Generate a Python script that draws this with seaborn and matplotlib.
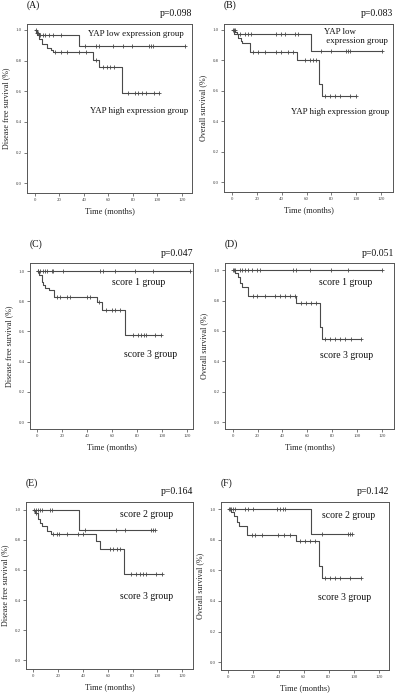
import numpy as np
import pandas as pd
import matplotlib
matplotlib.use("Agg")
import matplotlib.pyplot as plt
import seaborn as sns

# ---------------- data ----------------
# Panel A: disease free survival, YAP expression
a_low_t = [1.0, 3.0, 36.0]
a_low_s = [0.983, 0.967, 0.894]
a_low_c = [1.5, 2.5, 3.5, 4.5, 6.3, 8.0, 11.7, 15.0, 21.0, 40.8, 49.7, 52.0, 63.7, 71.8, 79.3, 93.0, 95.0, 96.0, 122.4]
a_high_t = [1.5, 3.5, 5.5, 10.0, 13.0, 15.0, 47.6, 52.5, 71.3]
a_high_s = [0.97, 0.94, 0.91, 0.885, 0.87, 0.855, 0.805, 0.758, 0.589]
a_high_c = [1.0, 16.3, 21.0, 26.5, 36.0, 42.0, 50.0, 55.8, 58.5, 61.2, 64.7, 76.2, 81.6, 84.4, 87.0, 91.0, 97.0, 101.5]

# Panel B: overall survival, YAP expression
b_low_t = [2.5, 4.0, 63.8]
b_low_s = [0.985, 0.971, 0.862]
b_low_c = [1.0, 1.9, 5.9, 10.0, 12.6, 15.3, 35.5, 39.5, 42.2, 50.3, 53.0, 71.8, 80.0, 92.0, 93.4, 94.7, 121.0]
b_high_t = [1.3, 4.6, 6.7, 8.0, 14.0, 52.0, 70.0, 72.0]
b_high_s = [0.97, 0.943, 0.928, 0.912, 0.855, 0.80, 0.643, 0.566]
b_high_c = [0.5, 16.7, 20.7, 26.0, 35.5, 39.5, 45.0, 49.0, 58.4, 62.4, 65.0, 67.8, 74.5, 78.6, 82.6, 86.6, 94.7, 100.0]

# Panel C: disease free survival, score 1 vs score 3
c_s1_t = []
c_s1_s = []
c_s1_c = [1.3, 2.6, 5.3, 6.6, 8.0, 12.0, 13.0, 21.0, 50.3, 53.0, 62.3, 78.0, 92.7, 122.4]
c_s3_t = [2.0, 4.0, 5.3, 7.0, 10.0, 13.8, 47.7, 51.7, 70.2]
c_s3_s = [0.976, 0.927, 0.91, 0.89, 0.875, 0.83, 0.793, 0.74, 0.576]
c_s3_c = [1.0, 16.0, 18.5, 24.0, 26.5, 39.7, 42.4, 49.8, 55.6, 59.6, 62.3, 66.2, 76.8, 80.8, 83.4, 85.3, 87.4, 94.0, 99.3]

# Panel D: overall survival, score 1 vs score 3
d_s1_t = []
d_s1_s = []
d_s1_c = [0.5, 1.9, 5.9, 7.2, 9.9, 12.6, 15.2, 19.2, 21.9, 48.6, 51.3, 62.0, 79.4, 92.7, 120.3]
d_s3_t = [1.9, 4.5, 5.9, 7.2, 12.6, 51.3, 70.0, 71.9]
d_s3_s = [0.98, 0.958, 0.914, 0.888, 0.83, 0.786, 0.628, 0.55]
d_s3_c = [1.0, 16.6, 19.2, 25.9, 33.9, 37.9, 42.0, 46.0, 50.0, 55.3, 59.3, 63.3, 67.3, 74.0, 78.0, 82.0, 86.0, 90.0, 95.4, 103.0]

# Panel E: disease free survival, score 2 vs score 3
e_s2_t = [36.7]
e_s2_s = [0.863]
e_s2_c = [0.5, 2.1, 4.0, 5.4, 6.7, 13.4, 14.7, 41.5, 66.4, 73.7, 95.0, 96.4, 97.8]
e_s3_t = [1.0, 4.0, 5.4, 7.2, 10.7, 14.0, 50.4, 54.0, 72.9]
e_s3_s = [0.98, 0.94, 0.912, 0.89, 0.86, 0.837, 0.79, 0.74, 0.576]
e_s3_c = [2.0, 16.0, 18.8, 21.0, 26.8, 36.0, 40.0, 61.6, 64.3, 67.0, 69.6, 79.0, 83.0, 85.7, 88.4, 90.5, 98.6, 103.7]

# Panel F: overall survival, score 2 vs score 3
f_s2_t = [65.6]
f_s2_s = [0.84]
f_s2_c = [0.8, 2.1, 4.0, 5.3, 13.3, 15.9, 19.9, 38.5, 41.1, 43.8, 45.1, 74.3, 95.6, 96.9, 98.2]
f_s3_t = [2.1, 4.8, 6.6, 8.5, 15.1, 53.9, 72.2, 74.3]
f_s3_s = [0.98, 0.955, 0.915, 0.888, 0.834, 0.79, 0.63, 0.55]
f_s3_c = [1.0, 18.6, 21.2, 26.5, 39.8, 44.6, 49.1, 57.0, 61.0, 65.0, 69.0, 77.0, 81.0, 85.0, 89.0, 97.0, 106.0]

panel_tags = ["(A)", "(B)", "(C)", "(D)", "(E)", "(F)"]
p_values = ["p=0.098", "p=0.083", "p=0.047", "p=0.051", "p=0.164", "p=0.142"]
y_labels = ["Disease free survival (%)", "Overall survival (%)",
            "Disease free survival (%)", "Overall survival (%)",
            "Disease free survival (%)", "Overall survival (%)"]
x_label = "Time (months)"
x_ticks = [0, 20, 40, 60, 80, 100, 120]
y_ticks = [0.0, 0.2, 0.4, 0.6, 0.8, 1.0]

curves = [
    [(a_low_t, a_low_s, a_low_c), (a_high_t, a_high_s, a_high_c)],
    [(b_low_t, b_low_s, b_low_c), (b_high_t, b_high_s, b_high_c)],
    [(c_s1_t, c_s1_s, c_s1_c), (c_s3_t, c_s3_s, c_s3_c)],
    [(d_s1_t, d_s1_s, d_s1_c), (d_s3_t, d_s3_s, d_s3_c)],
    [(e_s2_t, e_s2_s, e_s2_c), (e_s3_t, e_s3_s, e_s3_c)],
    [(f_s2_t, f_s2_s, f_s2_c), (f_s3_t, f_s3_s, f_s3_c)],
]

# group labels: (text, x in months, y in survival, font size)
group_labels = [
    [("YAP low expression group", 43, 0.975, 6.4), ("YAP high expression group", 45, 0.47, 6.4)],
    [("YAP low\n expression group", 74, 0.955, 6.4), ("YAP high expression group", 47.6, 0.463, 6.4)],
    [("score 1 group", 59.6, 0.923, 7), ("score 3 group", 69.4, 0.444, 7)],
    [("score 1 group", 69.2, 0.92, 7), ("score 3 group", 70, 0.44, 7)],
    [("score 2 group", 70.2, 0.967, 7), ("score 3 group", 70.2, 0.426, 7)],
    [("score 2 group", 74.9, 0.958, 7), ("score 3 group", 71.7, 0.424, 7)],
]

# ---------------- layout ----------------
W, H = 398, 693
sns.set_theme(style="ticks")
plt.rcParams["font.family"] = ["Liberation Serif", "DejaVu Serif"]

fig = plt.figure(figsize=(W / 100, H / 100), dpi=100)
fig.patch.set_facecolor("white")

# axes boxes in pixels: left, right, top, bottom
boxes = [(27, 192, 24, 193), (224, 393, 24, 192),
         (30, 193, 263, 429), (225, 394, 263, 429),
         (26, 193, 502, 669), (221, 389, 502, 670)]
xlims = [(-6.5, 128.2), (-6.7, 129.7), (-5.3, 124.5), (-6.1, 129.6), (-5.9, 128.6), (-5.8, 128.0)]
ylims = [(-0.063, 1.039), (-0.063, 1.038), (-0.046, 1.053), (-0.046, 1.048), (-0.057, 1.05), (-0.052, 1.048)]

line_col = "#4a4a4a"
for i in range(6):
    l, r, t, b = boxes[i]
    ax = fig.add_axes([l / W, 1 - b / H, (r - l) / W, (b - t) / H])
    for (ev_t, ev_s, cens) in curves[i]:
        end = max(cens + ev_t)
        xs = [0.0] + list(ev_t) + [end]
        ys = [1.0] + list(ev_s) + [ev_s[-1] if len(ev_s) else 1.0]
        df = pd.DataFrame({"t": xs, "s": ys})
        sns.lineplot(data=df, x="t", y="s", ax=ax, estimator=None, sort=False,
                     drawstyle="steps-post", color=line_col, linewidth=0.8)
        step_t = np.array([0.0] + list(ev_t))
        step_s = np.array([1.0] + list(ev_s))
        idx = np.searchsorted(step_t, np.array(cens), side="right") - 1
        cdf = pd.DataFrame({"t": cens, "s": step_s[idx]})
        sns.scatterplot(data=cdf, x="t", y="s", ax=ax, marker="+", s=10,
                        color=line_col, linewidth=0.6, zorder=3)
    ax.set_xlim(*xlims[i])
    ax.set_ylim(*ylims[i])
    ax.set_xticks(x_ticks)
    ax.set_yticks(y_ticks)
    ax.set_xticklabels([str(v) for v in x_ticks])
    ax.set_yticklabels([f"{v:.1f}" for v in y_ticks])
    ax.tick_params(axis="both", labelsize=3.5, length=2, width=0.5, pad=1.5,
                   colors="#444444", direction="out")
    for sp in ax.spines.values():
        sp.set_visible(True)
        sp.set_color("#555555")
        sp.set_linewidth(0.7)
    ax.set_xlabel(x_label, fontsize=6, color="#222222", labelpad=4)
    ax.set_ylabel(y_labels[i], fontsize=5.8, color="#222222", labelpad=4)
    ax.text(0.0, 1.0 + 19 / (b - t), panel_tags[i], transform=ax.transAxes,
            ha="left", va="center", fontsize=7, color="#111111")
    ax.text(1.0, 1.0 + 10 / (b - t), p_values[i], transform=ax.transAxes,
            ha="right", va="center", fontsize=7, color="#111111")
    for (txt, gx, gy, fs) in group_labels[i]:
        ax.text(gx, gy, txt, ha="left", va="center", fontsize=fs,
                color="#111111", linespacing=1.1)

fig.savefig("out.png", dpi=100, facecolor="white")
